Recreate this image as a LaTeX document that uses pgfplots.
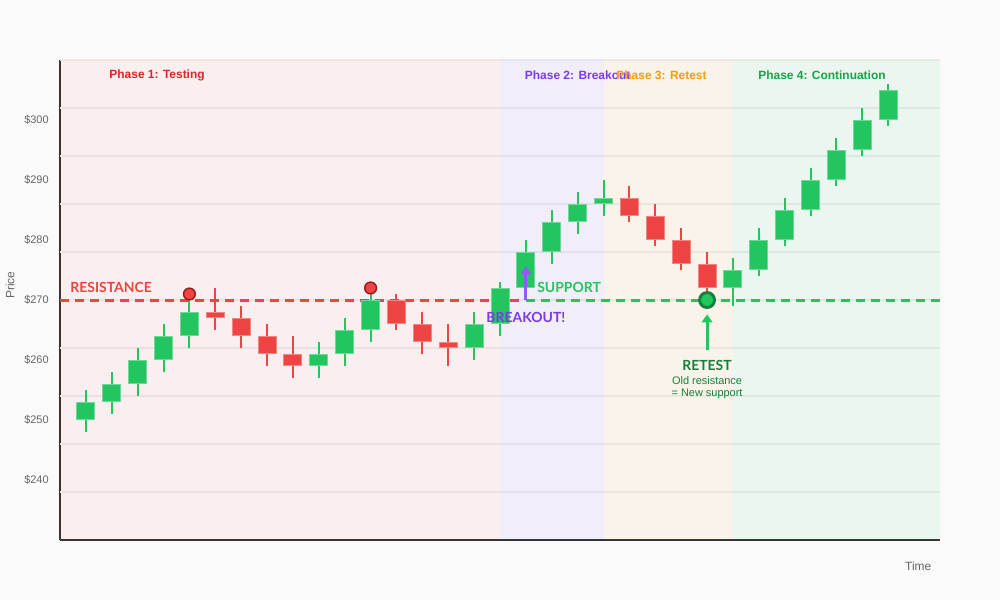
\documentclass[border=0pt]{standalone}
\usepackage{pgfplots}
\pgfplotsset{compat=1.18}
\usepackage{pgfplotstable}
\usetikzlibrary{arrows.meta}
\usepackage{fontspec}
\setmainfont{Liberation Sans}
\newfontfamily\lato{Lato}
\definecolor{bg}{HTML}{FAFAFA}
\definecolor{greenc}{HTML}{22C55E}
\definecolor{greenl}{HTML}{6FD89A}
\definecolor{redc}{HTML}{EF4444}
\definecolor{redl}{HTML}{F38585}
\definecolor{darkred}{HTML}{991B1B}
\definecolor{darkgreen}{HTML}{15803D}
\definecolor{purplec}{HTML}{8B5CF6}
\definecolor{purplet}{HTML}{7C3AED}
\definecolor{p1c}{HTML}{DC2626}
\definecolor{p3c}{HTML}{F59E0B}
\definecolor{p4c}{HTML}{16A34A}
\definecolor{tickc}{HTML}{666666}
\definecolor{axc}{HTML}{333333}
\definecolor{gridc}{HTML}{EBEBEB}

\pgfplotstableread{
x o h l c
0 250 255 248 253
1 253 258 251 256
2 256 262 254 260
3 260 266 258 264
4 264 271 262 268
9 259 263 257 261
10 261 267 259 265
11 265 272 263 270
15 262 268 260 266
16 266 273 264 272
17 272 280 271 278
18 278 285 276 283
19 283 288 281 286
20 286 290 284 287
25 272 277 269 275
26 275 282 274 280
27 280 287 279 285
28 285 292 284 290
29 290 297 289 295
30 295 302 294 300
31 300 306 299 305
}\greendata

\pgfplotstableread{
x o h l c
5 268 272 265 267
6 267 269 262 264
7 264 266 259 261
8 261 264 257 259
12 270 271 265 266
13 266 268 261 263
14 263 266 259 262
21 287 289 283 284
22 284 286 279 280
23 280 282 275 276
24 276 278 270 272
}\reddata

\begin{document}
\begin{tikzpicture}
\fill[bg] (-45bp,-45bp) rectangle (705bp,405bp);
\useasboundingbox (-45bp,-45bp) rectangle (705bp,405bp);
\begin{axis}[
  at={(0,0)}, anchor=south west,
  scale only axis, width=660bp, height=360bp,
  xmin=-1, xmax=33, ymin=230, ymax=310,
  axis x line*=bottom, axis y line*=left,
  axis line style={draw=axc, line width=1.5bp, -},
  xtick=\empty,
  ytick={240,250,...,300},
  yticklabels={\$240,\$250,\$260,\$270,\$280,\$290,\$300},
  yticklabel style={font=\fontsize{8.25}{10}\selectfont, text=tickc, anchor=east, xshift=-5bp},
  major tick length=0pt,
  extra y ticks={238,246,...,310},
  extra y tick labels={},
  extra y tick style={grid=major, major tick length=0pt},
  major grid style={draw=gridc, line width=1.2bp},
  clip=true,
]
% phase backgrounds
\fill[redc, fill opacity=0.06] (axis cs:-1,230) rectangle (axis cs:16,310);
\fill[purplec, fill opacity=0.08] (axis cs:16,230) rectangle (axis cs:20,310);
\fill[p3c, fill opacity=0.07] (axis cs:20,230) rectangle (axis cs:25,310);
\fill[greenc, fill opacity=0.07] (axis cs:25,230) rectangle (axis cs:33,310);

% resistance / support
\addplot[draw=redc, line width=2.25bp, dash pattern=on 6.75bp off 4.5bp] coordinates {(-1,270) (16.8,270)};
\addplot[draw=greenc, line width=2.25bp, dash pattern=on 6.75bp off 4.5bp] coordinates {(17,270) (33,270)};

% wicks
\addplot[draw=none, mark=none, forget plot, error bars/.cd, y dir=both, y explicit, error mark=none,
  error bar style={draw=greenc, line width=1.5bp, solid}]
  table[x=x, y expr={(\thisrow{h}+\thisrow{l})/2}, y error expr={(\thisrow{h}-\thisrow{l})/2}] {\greendata};
\addplot[draw=none, mark=none, forget plot, error bars/.cd, y dir=both, y explicit, error mark=none,
  error bar style={draw=redc, line width=1.5bp, solid}]
  table[x=x, y expr={(\thisrow{h}+\thisrow{l})/2}, y error expr={(\thisrow{h}-\thisrow{l})/2}] {\reddata};

% bodies (outline + fill)
\addplot[draw=none, mark=none, forget plot, error bars/.cd, y dir=both, y explicit, error mark=none,
  error bar style={draw=greenl, line width=14.25bp, solid}]
  table[x=x, y expr={(\thisrow{o}+\thisrow{c})/2}, y error expr={abs(\thisrow{c}-\thisrow{o})/2}] {\greendata};
\addplot[draw=none, mark=none, forget plot, error bars/.cd, y dir=both, y explicit, error mark=none,
  error bar style={draw=greenc, line width=12.75bp, solid}]
  table[x=x, y expr={(\thisrow{o}+\thisrow{c})/2}, y error expr={abs(\thisrow{c}-\thisrow{o})/2-0.15}] {\greendata};
\addplot[draw=none, mark=none, forget plot, error bars/.cd, y dir=both, y explicit, error mark=none,
  error bar style={draw=redl, line width=14.25bp, solid}]
  table[x=x, y expr={(\thisrow{o}+\thisrow{c})/2}, y error expr={abs(\thisrow{c}-\thisrow{o})/2}] {\reddata};
\addplot[draw=none, mark=none, forget plot, error bars/.cd, y dir=both, y explicit, error mark=none,
  error bar style={draw=redc, line width=12.75bp, solid}]
  table[x=x, y expr={(\thisrow{o}+\thisrow{c})/2}, y error expr={abs(\thisrow{c}-\thisrow{o})/2-0.15}] {\reddata};

% test markers
\addplot[only marks, mark=*, mark size=4.4bp, mark options={fill=redc, draw=darkred, line width=1.1bp}] coordinates {(4,271) (11,272)};
\addplot[only marks, mark=*, mark size=5.6bp, mark options={fill=greenc, draw=darkgreen, line width=2.2bp}] coordinates {(24,270)};

% arrows
\draw[purplec, line width=2.25bp, -{Triangle[length=6bp,width=8bp]}] (axis cs:17,270) -- (axis cs:17,275.6);
\draw[greenc, line width=2.25bp, -{Triangle[length=6bp,width=8bp]}] (axis cs:24,261.67) -- (axis cs:24,267.6);

% phase labels
\node[text=p1c, font=\bfseries\fontsize{9}{10}\selectfont] at (axis cs:2.75,307.4) {Phase 1: Testing};
\node[text=purplet, font=\bfseries\fontsize{9}{10}\selectfont] at (axis cs:19.0,307.4) {Phase 2: Breakout};
\node[text=p3c, font=\bfseries\fontsize{9}{10}\selectfont] at (axis cs:22.24,307.4) {Phase 3: Retest};
\node[text=p4c, font=\bfseries\fontsize{9}{10}\selectfont] at (axis cs:28.44,307.4) {Phase 4: Continuation};

% callouts
\node[anchor=west, inner sep=0pt, text=redc, font=\lato\bfseries\fontsize{10.5}{12}\selectfont] at (axis cs:-0.61,272.17) {RESISTANCE};
\node[anchor=west, inner sep=0pt, text=greenc, font=\lato\bfseries\fontsize{10.5}{12}\selectfont] at (axis cs:17.43,272.17) {SUPPORT};
\node[text=purplet, font=\lato\bfseries\fontsize{10.5}{12}\selectfont] at (axis cs:17,267.17) {BREAKOUT!};
\node[text=darkgreen, font=\lato\bfseries\fontsize{10.5}{12}\selectfont] at (axis cs:24,259.17) {RETEST};
\node[text=darkgreen, font=\fontsize{8.25}{10}\selectfont] at (axis cs:24,256.5) {Old resistance};
\node[text=darkgreen, font=\fontsize{8.25}{10}\selectfont] at (axis cs:24,254.33) {= New support};
\end{axis}
\node[rotate=90, text=tickc, font=\fontsize{9}{10}\selectfont] at (-37.5bp,191.25bp) {Price};
\node[anchor=east, text=tickc, font=\fontsize{9}{10}\selectfont] at (657bp,-19.5bp) {Time};
\end{tikzpicture}
\end{document}
